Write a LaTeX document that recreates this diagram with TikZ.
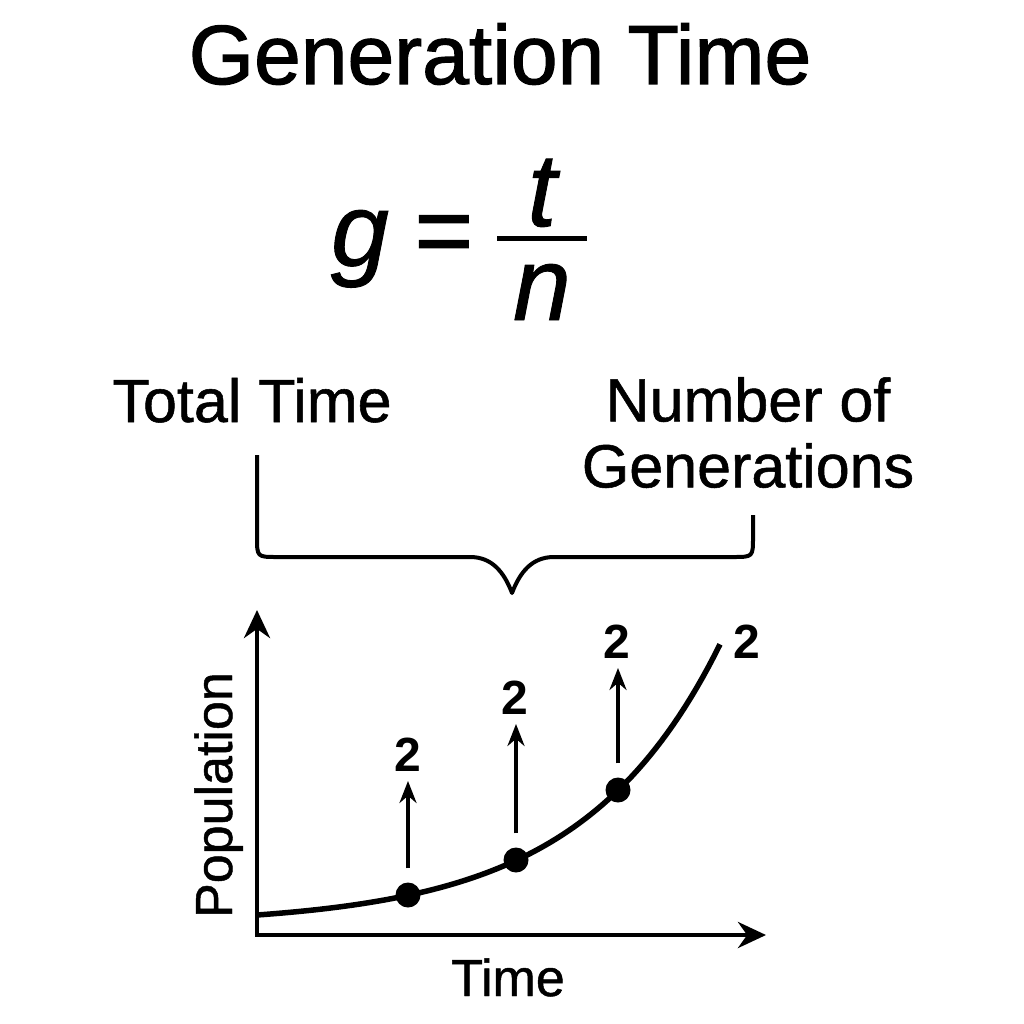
\documentclass[tikz,border=0pt]{standalone}
\usepackage{fontspec}
\setmainfont{Liberation Sans}
\newfontfamily\medfont{Liberation Sans}[FakeBold=0.9]
\newfontfamily\headfont{Liberation Sans}[FakeBold=1.4]
\usetikzlibrary{arrows.meta}

\begin{document}
\begin{tikzpicture}[x=1pt, y=-1pt,
  txt/.style={inner sep=0pt, font=\medfont\fontsize{61}{66}\selectfont},
  sym/.style={inner sep=0pt, font=\medfont\fontsize{104}{110}\selectfont\itshape},
  two/.style={inner sep=0pt, font=\fontsize{48}{52}\selectfont\bfseries},
  dot/.style={circle, fill=black, inner sep=0pt, minimum size=25pt},
  axis/.style={line width=4.5pt, line join=miter,
    {Stealth[length=28pt, width=26pt]}-{Stealth[length=28pt, width=26pt]}},
  uparr/.style={line width=3.6pt, -{Stealth[length=22pt, width=17pt]}},
  curve/.style={line width=5.5pt},
  brace/.style={line width=4pt, line join=round}]

  \useasboundingbox[fill=white] (0,0) rectangle (1024,1024);

  % ----- Title and formula -----
  \node[inner sep=0pt, font=\headfont\fontsize{84}{90}\selectfont, anchor=base] (title) at (500,84) {Generation Time};

  \node[sym, anchor=base] (gsym) at (360,266) {g};
  \node[inner sep=0pt, font=\headfont\fontsize{100}{110}\selectfont] (eqsym) at (444,240) {=};
  \node[sym, anchor=base] (tnum) at (542,226) {t};
  \node[sym, anchor=base] (nden) at (542,320) {n};
  \draw[line width=5pt] (497,238) -- (587,238);

  % ----- Labels and brace -----
  \node[txt, anchor=base] (total) at (252,422) {Total Time};
  \node[txt, align=center, anchor=north] (numgen) at (748,377) {Number of\\Generations};

  \draw[brace] (257,455) -- (257,537) .. controls (257,557) .. (277,557) -- (470,557)
    .. controls (492,557) and (504,572) .. (512,593)
    .. controls (520,572) and (532,557) .. (554,557) -- (733,557)
    .. controls (753,557) .. (753,537) -- (753,515);

  % ----- Growth graph -----
  \coordinate (O) at (257,935);
  \coordinate (ytip) at (257,610);
  \coordinate (xtip) at (766,935);
  \draw[axis] (ytip) -- (O) -- (xtip);

  % population ~ exponential in time
  \draw[curve] plot[domain=257:720, samples=80] (\x, {925 - 10*exp(0.0072*(\x-257))});

  \coordinate (p1) at (408,895);
  \coordinate (p2) at (516,860);
  \coordinate (p3) at (618,790);
  \foreach \i in {1,2,3}
    \node[dot] (d\i) at (p\i) {};

  \node[two] (two1) at (408,755) {2};
  \node[two] (two2) at (515,698) {2};
  \node[two] (two3) at (617,642) {2};
  \node[two] (two4) at (747,642) {2};

  \foreach \i in {1,2,3}
    \draw[uparr] ([yshift=14pt]d\i.north) -- ([yshift=-9pt]d\i.north |- two\i.south);

  \node[inner sep=0pt, font=\medfont\fontsize{52}{56}\selectfont, rotate=90, anchor=base] (poplbl) at (232,795) {Population};
  \node[inner sep=0pt, font=\medfont\fontsize{52}{56}\selectfont, anchor=base] (timelbl) at (508,996) {Time};

\end{tikzpicture}
\end{document}
